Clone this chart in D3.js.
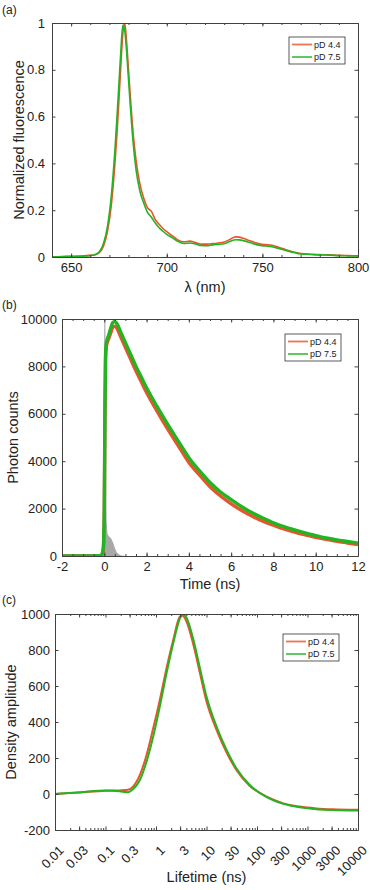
<!DOCTYPE html>
<html>
<head>
<meta charset="utf-8">
<script src="https://cdn.jsdelivr.net/npm/d3@7"></script>
<style>
  body { margin: 0; background: #fff; }
  svg { display: block; font-family: "Liberation Sans", Arial, sans-serif; }
</style>
</head>
<body>
<div id="chart"></div>
<script>
// (a) emission spectra
const WL = [640, 645, 650, 655, 660, 663, 665, 667, 669, 671, 673, 674, 675, 676, 677, 678, 679, 680, 681, 682, 683, 684, 686, 688, 690, 692, 694, 696, 698, 700, 703, 706, 709, 712, 715, 718, 721, 724, 727, 730, 733, 736, 738, 740, 743, 746, 749, 752, 755, 758, 761, 764, 767, 770, 775, 780, 785, 790, 795, 800]
const FL_44 = [0, 0.002, 0.003, 0.004, 0.007, 0.011, 0.02, 0.048, 0.11, 0.22, 0.41, 0.53, 0.67, 0.82, 0.95, 1.0, 0.92, 0.8, 0.68, 0.57, 0.48, 0.41, 0.31, 0.25, 0.21, 0.195, 0.16, 0.14, 0.122, 0.108, 0.09, 0.072, 0.065, 0.068, 0.062, 0.055, 0.055, 0.057, 0.06, 0.064, 0.075, 0.086, 0.085, 0.08, 0.071, 0.062, 0.055, 0.053, 0.05, 0.043, 0.035, 0.027, 0.02, 0.015, 0.012, 0.01, 0.009, 0.007, 0.006, 0.005]
const FL_75 = [0, 0.001, 0.002, 0.003, 0.006, 0.012, 0.025, 0.06, 0.13, 0.26, 0.47, 0.6, 0.74, 0.88, 0.99, 0.97, 0.88, 0.76, 0.64, 0.53, 0.44, 0.37, 0.28, 0.23, 0.19, 0.17, 0.145, 0.125, 0.11, 0.097, 0.082, 0.066, 0.058, 0.06, 0.056, 0.049, 0.048, 0.052, 0.054, 0.057, 0.066, 0.074, 0.073, 0.07, 0.063, 0.055, 0.049, 0.047, 0.044, 0.038, 0.031, 0.024, 0.018, 0.013, 0.011, 0.009, 0.008, 0.006, 0.005, 0.004]

// (b) decay traces
const T = [-2, -1, -0.5, -0.15, -0.05, 0, 0.03, 0.06, 0.1, 0.2, 0.3, 0.4, 0.5, 0.6, 0.8, 1, 1.25, 1.5, 1.75, 2, 2.5, 3, 3.5, 4, 4.5, 5, 5.5, 6, 6.5, 7, 7.5, 8, 8.5, 9, 9.5, 10, 10.5, 11, 11.5, 12]
const PC_44 = [0, 0, 0, 15, 250, 1800, 5800, 8300, 8850, 9150, 9400, 9650, 9700, 9600, 9200, 8800, 8300, 7800, 7350, 6900, 6100, 5350, 4650, 3950, 3420, 2920, 2530, 2200, 1920, 1680, 1470, 1300, 1140, 1010, 890, 790, 700, 620, 550, 480]
const PC_75 = [0, 0, 0, 20, 300, 2000, 6000, 8500, 9000, 9300, 9600, 9850, 9900, 9800, 9400, 9000, 8500, 8000, 7550, 7100, 6300, 5550, 4850, 4150, 3600, 3100, 2700, 2380, 2080, 1820, 1600, 1400, 1240, 1100, 970, 860, 760, 680, 610, 540]
const T_IRF = [-0.3, -0.1, -0.05, -0.02, 0, 0.05, 0.08, 0.11, 0.15, 0.2, 0.25, 0.3, 0.35, 0.4, 0.45, 0.5, 0.55, 0.6, 0.7, 0.8, 1.0]
const IRF = [0, 0, 500, 6000, 10000, 10000, 4000, 1500, 950, 850, 800, 770, 700, 600, 480, 350, 230, 150, 60, 20, 0]

// (c) lifetime distributions
const TAU = [0.01, 0.032, 0.1, 0.19, 0.28, 0.35, 0.48, 0.65, 0.88, 1.19, 1.62, 2.2, 2.97, 3.35, 4.0, 5.5, 7.4, 10, 15.8, 25, 39, 72, 156, 333, 700, 1500, 3200, 10000]
const DA_44 = [0, 9, 18, 20, 23, 41, 106, 217, 366, 523, 700, 857, 985, 990, 960, 829, 672, 514, 356, 230, 134, 45, -15, -52, -70, -80, -85, -88]
const DA_75 = [0, 10, 19, 15, 10, 26, 78, 180, 319, 486, 672, 839, 975, 1000, 980, 857, 700, 542, 375, 245, 143, 50, -18, -55, -74, -85, -89, -92]
const TAU_TICKS = [0.01, 0.03, 0.1, 0.3, 1, 3, 10, 30, 100, 300, 1000, 3000, 10000]

const SERIES = ["pD 4.4", "pD 7.5"]
const COLORS = ["#e8552a", "#22b422"]
const AXIS = "#404040"

const W = 370, H = 890
const svg = d3.select("#chart").append("svg").attr("width", W).attr("height", H)

function zip(xs, ys) { return xs.map((x, i) => ({ x, y: ys[i] })) }
const plain = d => String(d)   // keeps the ASCII hyphen for negatives, like MATLAB

function styleAxis(g) {
  g.selectAll(".domain").attr("stroke", AXIS).attr("stroke-width", 1)
  g.selectAll(".tick line").attr("stroke", AXIS)
  g.selectAll("text").attr("fill", "#222").attr("font-size", "13px").attr("font-family", "Liberation Sans, Arial, sans-serif")
}

function panel(cfg) {
  const { left, right, top, bottom } = cfg.box
  const x = cfg.x.range([left, right])
  const y = cfg.y.range([bottom, top])
  const g = svg.append("g")

  const clipId = "clip-" + cfg.tag
  g.append("clipPath").attr("id", clipId).append("rect")
    .attr("x", left).attr("y", top).attr("width", right - left).attr("height", bottom - top)

  const plot = g.append("g").attr("clip-path", `url(#${clipId})`)
  if (cfg.area) {
    plot.append("path")
      .datum(cfg.area)
      .attr("fill", "#a8a8a8")
      .attr("d", d3.area().x(d => x(d.x)).y0(y(0)).y1(d => y(d.y)))
  }
  cfg.lines.forEach((data, i) => {
    plot.append("path")
      .datum(data)
      .attr("fill", "none")
      .attr("stroke", COLORS[i])
      .attr("stroke-width", cfg.lw)
      .attr("stroke-linejoin", "round")
      .attr("d", d3.line().x(d => x(d.x)).y(d => y(d.y)).curve(d3.curveMonotoneX))
  })

  // axes, ticks pointing inward, box on
  const tk = 3.5
  const bx = g.append("g").attr("transform", `translate(0,${bottom})`)
    .call(d3.axisBottom(x).tickValues(cfg.xTicks).tickFormat(cfg.xFmt).tickSizeInner(-tk).tickSizeOuter(0).tickPadding(6))
  styleAxis(bx)
  if (cfg.rotate) {
    bx.selectAll("text")
      .attr("text-anchor", "end")
      .attr("dy", "0")
      .attr("transform", "translate(5,17) rotate(-45)")
  }
  styleAxis(g.append("g").attr("transform", `translate(0,${top})`)
    .call(d3.axisTop(x).tickValues(cfg.xTicks).tickFormat("").tickSizeInner(-tk).tickSizeOuter(0)))
  styleAxis(g.append("g").attr("transform", `translate(${left},0)`)
    .call(d3.axisLeft(y).tickValues(cfg.yTicks).tickFormat(cfg.yFmt).tickSizeInner(-tk).tickSizeOuter(0).tickPadding(cfg.yPad)))
  styleAxis(g.append("g").attr("transform", `translate(${right},0)`)
    .call(d3.axisRight(y).tickValues(cfg.yTicks).tickFormat("").tickSizeInner(-tk).tickSizeOuter(0)))
  if (cfg.xMinor) {
    styleAxis(g.append("g").attr("transform", `translate(0,${bottom})`)
      .call(d3.axisBottom(x).tickValues(cfg.xMinor).tickFormat("").tickSizeInner(-2).tickSizeOuter(0)))
    styleAxis(g.append("g").attr("transform", `translate(0,${top})`)
      .call(d3.axisTop(x).tickValues(cfg.xMinor).tickFormat("").tickSizeInner(-2).tickSizeOuter(0)))
  }

  // labels
  g.append("text").attr("x", 2).attr("y", cfg.tagY).attr("font-size", "12px").attr("fill", "#222").text(`(${cfg.tag})`)
  g.append("text").attr("x", (left + right) / 2).attr("y", cfg.xLabelY)
    .attr("text-anchor", "middle").attr("font-size", "14.5px").attr("fill", "#222").text(cfg.xLabel)
  g.append("text").attr("transform", `translate(${cfg.yLabelX},${(top + bottom) / 2}) rotate(-90)`)
    .attr("text-anchor", "middle").attr("font-size", "14.5px").attr("fill", "#222").text(cfg.yLabel)

  // legend
  const lg = g.append("g").attr("transform", `translate(${cfg.legend[0]},${cfg.legend[1]})`)
  lg.append("rect").attr("width", 56).attr("height", 27).attr("fill", "#fff").attr("stroke", "#333").attr("stroke-width", 0.8)
  SERIES.forEach((s, i) => {
    const yy = 7.5 + i * 12.5
    lg.append("line").attr("x1", 3).attr("x2", 23).attr("y1", yy).attr("y2", yy)
      .attr("stroke", COLORS[i]).attr("stroke-width", 1.8).attr("opacity", 0.8)
    lg.append("text").attr("x", 25).attr("y", yy + 3.2).attr("font-size", "9px").attr("fill", "#222").text(s)
  })
}

panel({
  tag: "a", tagY: 14,
  box: { left: 52, right: 358, top: 23, bottom: 257 },
  x: d3.scaleLinear().domain([640, 800]),
  y: d3.scaleLinear().domain([0, 1]),
  xTicks: [650, 700, 750, 800], xFmt: plain,
  xMinor: d3.range(640, 801, 10),
  yTicks: [0, 0.2, 0.4, 0.6, 0.8, 1], yFmt: plain, yPad: 7,
  xLabel: "λ (nm)", xLabelY: 292, yLabel: "Normalized fluorescence", yLabelX: 24,
  lines: [zip(WL, FL_44), zip(WL, FL_75)], lw: 1.6,
  legend: [289, 37]
})

panel({
  tag: "b", tagY: 309,
  box: { left: 62, right: 358, top: 319, bottom: 556 },
  x: d3.scaleLinear().domain([-2, 12]),
  y: d3.scaleLinear().domain([0, 10000]),
  xTicks: d3.range(-2, 13, 2), xFmt: plain,
  xMinor: d3.range(-2, 12.01, 0.5),
  yTicks: d3.range(0, 10001, 2000), yFmt: plain, yPad: 5,
  xLabel: "Time (ns)", xLabelY: 589, yLabel: "Photon counts", yLabelX: 18,
  lines: [zip(T, PC_44), zip(T, PC_75)], lw: 3.4,
  area: zip(T_IRF, IRF),
  legend: [285, 334]
})

const minorLog = []
for (let e = -2; e < 4; e++) for (let m = 2; m <= 9; m++) minorLog.push(m * Math.pow(10, e))

panel({
  tag: "c", tagY: 604,
  box: { left: 55, right: 358, top: 614, bottom: 830 },
  x: d3.scaleLog().domain([0.01, 10000]),
  y: d3.scaleLinear().domain([-200, 1000]),
  xTicks: TAU_TICKS, xFmt: plain, rotate: true,
  xMinor: minorLog,
  yTicks: d3.range(-200, 1001, 200), yFmt: plain, yPad: 5,
  xLabel: "Lifetime (ns)", xLabelY: 882, yLabel: "Density amplitude", yLabelX: 16,
  lines: [zip(TAU, DA_44), zip(TAU, DA_75)], lw: 2,
  legend: [283, 634]
})
</script>
</body>
</html>
